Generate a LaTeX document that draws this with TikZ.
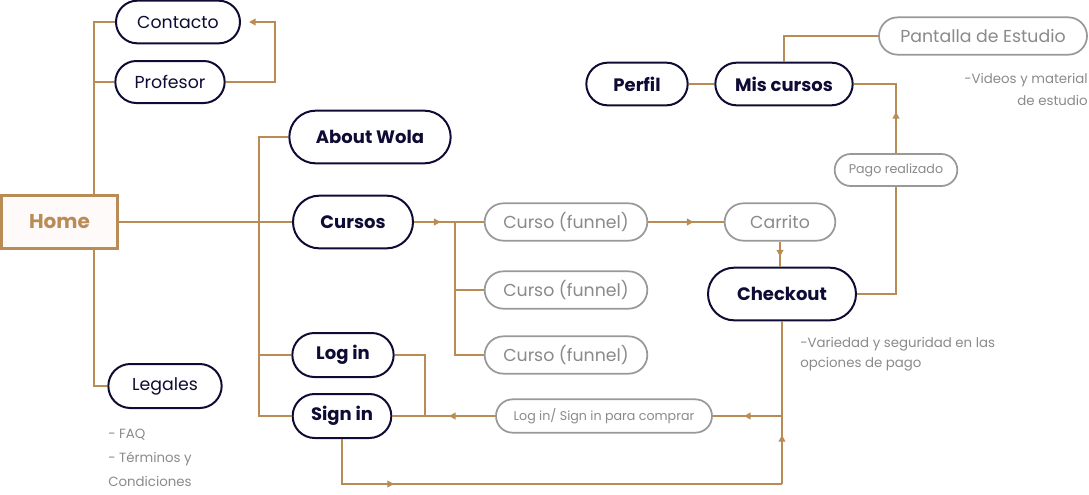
\documentclass[tikz,border=0pt]{standalone}
\usepackage{fontspec}
\setmainfont{Poppins}
\usetikzlibrary{arrows.meta,decorations.markings,shapes.misc,calc}
\definecolor{tan}{HTML}{B98B55}
\definecolor{navy}{HTML}{0E0C35}
\definecolor{gry}{HTML}{8A8A8A}
\definecolor{gryline}{HTML}{999999}
\definecolor{homefill}{HTML}{FFFAFA}
\begin{document}
\begin{tikzpicture}[x=0.75pt,y=-0.75pt,
  conn/.style={draw=tan,line width=1.5pt},
  arrowat/.style={postaction={decorate},decoration={markings,mark=at position #1 with {\arrow[tan]{Triangle[length=5pt,width=5pt]}}}},
  navybox/.style={rounded rectangle,draw=navy,line width=1.5pt,text=navy,inner sep=0pt,fill=white},
  graybox/.style={rounded rectangle,draw=gryline,line width=1.3pt,text=gry,inner sep=0pt,fill=white},
  bold/.style={font=\fontsize{13.5}{16}\selectfont\bfseries},
  reg/.style={font=\fontsize{13}{16}\selectfont},
  note/.style={text=gry,font=\fontsize{10}{18}\selectfont,inner sep=0pt}]
\useasboundingbox (0,0) rectangle (1089,494);
% nodes
\node[navybox,reg,minimum width=93pt,minimum height=32pt] (contacto) at (178,22) {Contacto};
\node[navybox,reg,minimum width=82pt,minimum height=31.5pt] (profesor) at (170,82) {Profesor};
\node[draw=tan,line width=2pt,fill=homefill,text=tan,font=\fontsize{15}{18}\selectfont\bfseries,minimum width=87pt,minimum height=40pt,inner sep=0pt] (home) at (59.5,222) {Home};
\node[navybox,reg,minimum width=85pt,minimum height=33pt] (legales) at (165,386) {Legales};
\node[navybox,bold,minimum width=121pt,minimum height=39.5pt] (about) at (370,137) {About Wola};
\node[navybox,bold,minimum width=90pt,minimum height=39.5pt] (cursos) at (353,222) {Cursos};
\node[navybox,bold,minimum width=76pt,minimum height=33pt] (login) at (343,355) {Log in};
\node[navybox,bold,minimum width=74pt,minimum height=33pt] (signin) at (342,416) {Sign in};
\node[graybox,reg,minimum width=122pt,minimum height=28pt] (c1) at (566,222) {Curso (funnel)};
\node[graybox,reg,minimum width=122pt,minimum height=28pt] (c2) at (566,290) {Curso (funnel)};
\node[graybox,reg,minimum width=122pt,minimum height=28pt] (c3) at (566,355) {Curso (funnel)};
\node[graybox,reg,minimum width=83pt,minimum height=28pt] (carrito) at (780,222) {Carrito};
\node[navybox,bold,minimum width=111pt,minimum height=39.5pt] (checkout) at (782,294) {Checkout};
\node[graybox,font=\fontsize{9.5}{12}\selectfont,minimum width=92pt,minimum height=24pt] (pago) at (896,170) {Pago realizado};
\node[navybox,bold,minimum width=103pt,minimum height=32pt] (miscursos) at (784,84) {Mis cursos};
\node[navybox,bold,minimum width=76pt,minimum height=32pt] (perfil) at (637,84) {Perfil};
\node[graybox,reg,minimum width=156pt,minimum height=28pt] (pantalla) at (983,36) {Pantalla de Estudio};
\node[graybox,font=\fontsize{9.5}{12}\selectfont,minimum width=162pt,minimum height=25pt] (lsc) at (604,416) {Log in/ Sign in para comprar};
% notes
\node[note,align=left,anchor=north west] (n1) at (108,429) {- FAQ\\- Términos y\\Condiciones};
\node[note,align=right,anchor=north east,font=\fontsize{10}{16.5}\selectfont] (n2) at (1088,73) {-Videos y material\\de estudio};
\node[note,align=left,anchor=north west,font=\fontsize{10}{15}\selectfont] (n3) at (800,337) {-Variedad y seguridad en las\\opciones de pago};
% junction coordinates
\coordinate (jx) at (94,0);
\coordinate (jy) at (259,0);
\coordinate (jc) at (455,0);
\coordinate (jl) at (425,0);
\coordinate (jp) at (275,0);
\coordinate (bot) at (782,484);
\coordinate (chkj) at (782,416);
% connectors
\draw[conn] (contacto.west) -| (home.north -| jx);
\draw[conn] (profesor.west) -- (profesor.west -| jx);
\draw[conn,-{Triangle[length=5pt,width=5pt]},shorten >=6pt] (profesor.east) -| (jp |- contacto.east) -- (contacto.east);
\draw[conn] (home.south -| jx) |- (legales.west);
\draw[conn] (home.east) -- (cursos.west);
\draw[conn] (about.west) -| (jy |- signin.west) -- (signin.west);
\draw[conn] (login.west) -- (login.west -| jy);
\draw[conn,arrowat=0.65] (cursos.east) -- (cursos.east -| jc);
\draw[conn] (cursos.east -| jc) -- (c1.west);
\draw[conn] (jc |- cursos.east) |- (c3.west);
\draw[conn] (c2.west) -- (c2.west -| jc);
\draw[conn,arrowat=0.6] (c1.east) -- (carrito.west);
\draw[conn,arrowat=0.6] (carrito.south) -- (carrito.south |- checkout.north);
\draw[conn] (checkout.east) -| (pago.south);
\draw[conn,arrowat=0.37] (pago.north) |- (miscursos.east);
\draw[conn] (perfil.east) -- (miscursos.west);
\draw[conn] (miscursos.north) |- (pantalla.west);
\draw[conn] (checkout.south) -- (chkj);
\draw[conn,arrowat=0.55] (chkj) -- (lsc.east);
\draw[conn,arrowat=0.45] (lsc.west) -- (signin.east);
\draw[conn] (login.east) -| (jl |- signin.east);
\draw[conn,arrowat=0.2] (signin.south) |- (bot);
\draw[conn,arrowat=0.72] (bot) -- (chkj);
\end{tikzpicture}
\end{document}
